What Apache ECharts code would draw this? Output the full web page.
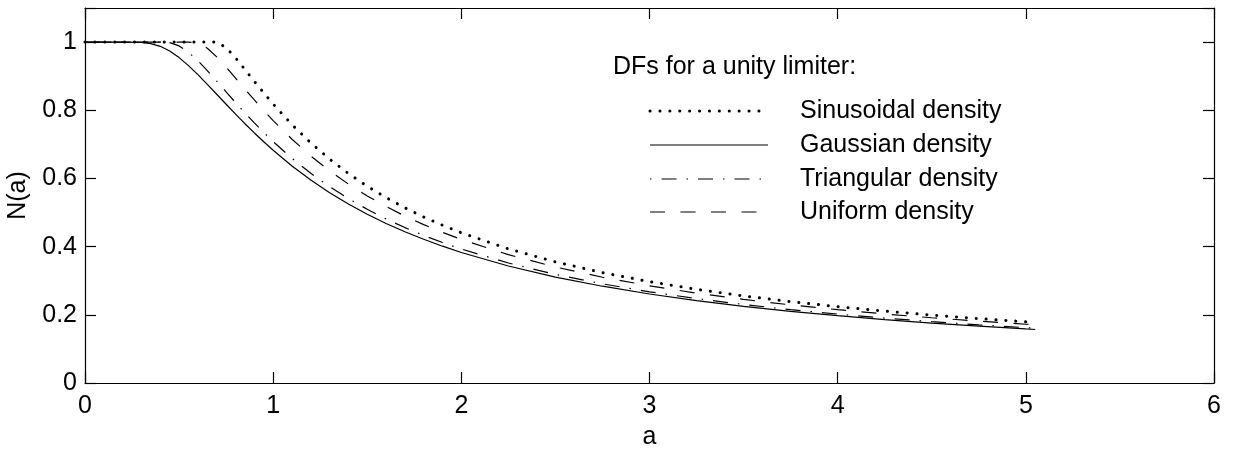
<!DOCTYPE html>
<html>
<head>
<meta charset="utf-8">
<title>DFs for a unity limiter</title>
<script src="https://cdn.jsdelivr.net/npm/echarts@6/dist/echarts.min.js"></script>
<style>
  html, body { margin: 0; padding: 0; background: #fff; }
  #chart { width: 1233px; height: 450px; }
</style>
</head>
<body>
<div id="chart"></div>
<script>
// Input rms level a (shared abscissa for all four curves)
const aValues = [0, 0.1, 0.2, 0.3, 0.35, 0.4, 0.45, 0.5, 0.55, 0.6, 0.65, 0.7, 0.75, 0.8, 0.85, 0.9, 0.95,
  1.0, 1.1, 1.2, 1.3, 1.4, 1.5, 1.6, 1.7, 1.8, 1.9, 2.0, 2.25, 2.5, 2.75, 3.0, 3.25, 3.5, 3.75,
  4.0, 4.25, 4.5, 4.75, 5.0, 5.05];

// Describing-function gain N(a) for each input density
const sinusoidal = [1, 1, 1, 1, 1, 1, 1, 1, 1, 1, 1, 1, 0.9838, 0.9538, 0.9195, 0.8848, 0.8510,
  0.8183, 0.7579, 0.7043, 0.6567, 0.6145, 0.5772, 0.5439, 0.5139, 0.4870, 0.4628, 0.4406, 0.3935,
  0.3553, 0.3238, 0.2973, 0.2748, 0.2554, 0.2387, 0.2239, 0.2109, 0.1993, 0.1889, 0.1795, 0.1777];
const gaussian = [1, 1, 1, 0.9991, 0.9957, 0.9876, 0.9737, 0.9545, 0.9309, 0.9045, 0.8760, 0.8469,
  0.8176, 0.7887, 0.7606, 0.7335, 0.7075, 0.6827, 0.6367, 0.5953, 0.5582, 0.5249, 0.4950, 0.4680,
  0.4436, 0.4215, 0.4013, 0.3829, 0.3433, 0.3108, 0.2839, 0.2611, 0.2417, 0.2249, 0.2103, 0.1974,
  0.1860, 0.1759, 0.1667, 0.1585, 0.1570];
const triangular = [1, 1, 1, 1, 1, 1, 0.9984, 0.9888, 0.9702, 0.9452, 0.9162, 0.8854, 0.8539, 0.8226,
  0.7922, 0.7629, 0.7349, 0.7082, 0.6590, 0.6151, 0.5759, 0.5408, 0.5095, 0.4813, 0.4559, 0.4329,
  0.4120, 0.3930, 0.3520, 0.3186, 0.2909, 0.2675, 0.2475, 0.2303, 0.2153, 0.2021, 0.1904, 0.1800,
  0.1707, 0.1623, 0.1607];
const uniform = [1, 1, 1, 1, 1, 1, 1, 1, 1, 0.9979, 0.9820, 0.9566, 0.9266, 0.8946, 0.8622, 0.8303,
  0.7994, 0.7698, 0.7150, 0.6660, 0.6224, 0.5835, 0.5488, 0.5178, 0.4898, 0.4646, 0.4418, 0.4210,
  0.3765, 0.3402, 0.3103, 0.2851, 0.2637, 0.2452, 0.2291, 0.2150, 0.2025, 0.1914, 0.1814, 0.1724,
  0.1707];

const titleText = 'DFs for a unity limiter:';
const seriesNames = ['Sinusoidal density', 'Gaussian density', 'Triangular density', 'Uniform density'];
const xTicks = [0, 1, 2, 3, 4, 5, 6];
const yTicks = [0, 0.2, 0.4, 0.6, 0.8, 1];

const FONT = '"Liberation Sans", Arial, Helvetica, sans-serif';
const FS = 25;

// Line styles: dotted, solid, dash-dot, dashed
const styles = [
  { color: '#000', width: 3, type: [0.1, 9.8], cap: 'round' },
  { color: '#000', width: 1.2, type: 'solid', cap: 'butt' },
  { color: '#000', width: 1.2, type: [1.5, 10, 15, 10], cap: 'butt' },
  { color: '#000', width: 1.2, type: [15, 15.5], cap: 'butt' }
];
const values = [sinusoidal, gaussian, triangular, uniform];

const pairs = ys => aValues.map((a, i) => [a, ys[i]]);

const series = values.map((ys, k) => ({
  name: seriesNames[k],
  type: 'line',
  data: pairs(ys),
  showSymbol: false,
  symbol: 'none',
  smooth: false,
  lineStyle: styles[k],
  silent: true,
  animation: false,
  z: 3
}));

// Legend box drawn as graphics
const legendX = 650, legendLen = 118, labelX = 800;
const rowY = [111, 145, 179, 212];
const graphic = [{
  type: 'text', x: 613, y: 67,
  style: { text: titleText, font: FS + 'px ' + FONT, fill: '#000', verticalAlign: 'middle' }
}];
rowY.forEach((y, k) => {
  graphic.push({
    type: 'line',
    shape: { x1: legendX, y1: y, x2: legendX + legendLen, y2: y },
    style: {
      stroke: '#000',
      lineWidth: styles[k].width,
      lineDash: Array.isArray(styles[k].type) ? styles[k].type : null,
      lineCap: styles[k].cap
    }
  });
  graphic.push({
    type: 'text', x: labelX, y: y,
    style: { text: seriesNames[k], font: FS + 'px ' + FONT, fill: '#000', verticalAlign: 'middle' }
  });
});

const fmt = v => (v > 1.05 ? '' : String(+v.toFixed(1)));

const baseAxis = {
  axisLine: { show: true, onZero: false, lineStyle: { color: '#000', width: 1.2 } },
  axisTick: { show: true, inside: true, length: 11, lineStyle: { color: '#000', width: 1.2 } },
  splitLine: { show: false },
  minorTick: { show: false }
};

const option = {
  animation: false,
  backgroundColor: '#fff',
  textStyle: { fontFamily: FONT },
  grid: { left: 85, right: 19, top: 8, bottom: 67, containLabel: false, outerBoundsMode: 'none' },
  xAxis: [
    Object.assign({}, baseAxis, {
      type: 'value', position: 'bottom', min: xTicks[0], max: xTicks[xTicks.length - 1], interval: 1,
      name: 'a', nameLocation: 'middle', nameGap: 42,
      nameTextStyle: { fontSize: FS, color: '#000', fontFamily: FONT },
      axisLabel: { show: true, fontSize: FS, color: '#000', margin: 11, fontFamily: FONT }
    }),
    Object.assign({}, baseAxis, {
      type: 'value', position: 'top', min: xTicks[0], max: xTicks[xTicks.length - 1], interval: 1,
      axisLabel: { show: false }
    })
  ],
  yAxis: [
    Object.assign({}, baseAxis, {
      type: 'value', position: 'left', min: yTicks[0], max: 1.1, interval: 0.2,
      name: 'N(a)', nameLocation: 'middle', nameGap: 54, nameRotate: 90,
      nameTextStyle: { fontSize: FS, color: '#000', fontFamily: FONT },
      axisLabel: { show: true, fontSize: FS, color: '#000', margin: 8, formatter: fmt, fontFamily: FONT }
    }),
    Object.assign({}, baseAxis, {
      type: 'value', position: 'right', min: yTicks[0], max: 1.1, interval: 0.2,
      axisLabel: { show: false }
    })
  ],
  series: series,
  graphic: graphic
};

const chart = echarts.init(document.getElementById('chart'), null, { renderer: 'canvas' });
chart.setOption(option);
</script>
</body>
</html>
